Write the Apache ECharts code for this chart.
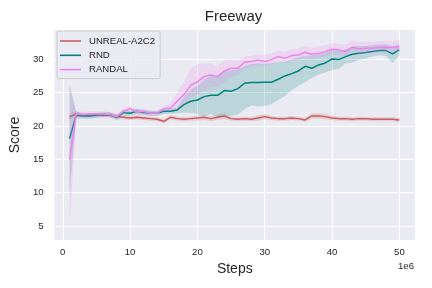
<!DOCTYPE html>
<html><head><meta charset="utf-8">
<script src="https://cdn.jsdelivr.net/npm/echarts@6/dist/echarts.min.js"></script>
<style>html,body{margin:0;padding:0;background:#fff}#c{width:432px;height:288px}</style>
</head><body><div id="c"></div>
<script>
const steps = [1,2,3,4,5,6,7,8,9,10,11,12,13,14,15,16,17,18,19,20,21,22,23,24,25,26,27,28,29,30,31,32,33,34,35,36,37,38,39,40,41,42,43,44,45,46,47,48,49,50];
const xTicks = [0,10,20,30,40,50];
const yTicks = [5,10,15,20,25,30];

const unrealMean = [21.4,21.8,21.6,21.6,21.7,21.6,21.6,21.4,21.3,21.2,21.3,21.2,21.1,21.0,20.7,21.3,21.1,21.0,21.1,21.2,21.3,21.1,21.3,21.5,21.1,21.0,21.1,21.0,21.2,21.4,21.2,21.1,21.1,21.2,21.1,20.9,21.5,21.5,21.4,21.2,21.1,21.1,21.0,21.1,21.1,21.0,21.0,21.0,21.0,20.9];
const unrealLow = [21.0,21.4,21.3,21.3,21.4,21.3,21.3,21.0,21.0,20.9,21.0,20.9,20.8,20.7,20.4,21.0,20.8,20.7,20.8,20.8,20.9,20.7,20.9,21.0,20.8,20.7,20.8,20.7,20.8,21.0,20.9,20.8,20.8,20.9,20.8,20.6,21.1,21.1,21.0,20.9,20.8,20.8,20.7,20.8,20.8,20.7,20.7,20.7,20.7,20.6];
const unrealHigh = [21.8,22.2,21.9,21.9,22.0,21.9,21.9,21.8,21.6,21.5,21.6,21.5,21.4,21.3,21.0,21.6,21.4,21.3,21.4,21.6,21.7,21.5,21.7,22.0,21.4,21.3,21.4,21.3,21.6,21.8,21.5,21.4,21.4,21.5,21.4,21.2,21.9,21.9,21.8,21.5,21.4,21.4,21.3,21.4,21.4,21.3,21.3,21.3,21.3,21.2];

const rndMean = [18.1,21.6,21.5,21.5,21.6,21.7,21.7,21.3,22.0,21.9,22.2,22.0,21.9,21.9,22.2,22.2,22.4,23.2,23.7,23.9,24.4,24.6,24.6,25.3,25.2,25.6,26.4,26.5,26.5,26.55,26.55,27.0,27.5,27.85,28.25,28.95,28.65,29.15,29.45,30.05,29.95,30.4,30.75,30.9,31.0,31.15,31.3,31.3,30.8,31.45];
const rndLow = [10.0,21.1,21.1,21.1,21.2,21.3,21.3,20.9,21.6,21.5,21.8,21.6,21.5,21.5,21.8,21.8,21.9,22.0,22.0,21.8,21.5,21.8,21.3,21.6,21.5,21.7,22.5,23.1,22.9,23.0,23.3,23.9,24.5,25.4,26.0,26.6,27.2,27.7,28.0,28.4,28.5,29.4,29.5,29.9,30.1,30.4,30.6,30.5,29.4,30.6];
const rndHigh = [26.3,22.1,21.9,21.9,22.0,22.1,22.1,21.7,22.4,22.3,22.6,22.4,22.3,22.3,22.6,22.6,22.8,24.4,25.5,26.0,27.0,27.5,27.4,28.2,28.4,28.5,29.0,29.3,29.4,29.3,29.4,29.6,29.6,30.0,30.3,30.5,30.6,30.8,31.0,31.4,31.3,31.5,31.9,32.0,32.0,32.1,32.2,32.2,32.0,32.3];

const randalMean = [14.9,21.8,21.7,21.8,21.8,21.8,21.7,21.4,22.2,22.6,22.1,22.2,21.9,21.9,22.6,22.7,23.7,24.7,26.1,26.6,27.4,27.65,27.4,28.25,28.65,28.65,29.55,29.65,29.9,29.65,29.95,30.4,30.15,30.55,30.65,31.05,30.75,30.9,31.15,31.5,31.4,31.15,31.8,31.55,31.65,31.65,31.75,31.8,31.75,31.9];
const randalLow = [4.3,21.4,21.3,21.4,21.4,21.4,21.3,21.0,21.8,22.2,21.7,21.8,21.5,21.5,22.2,22.2,22.6,23.2,24.2,24.7,25.3,25.8,25.9,26.6,27.4,27.6,28.5,28.8,29.1,28.9,29.2,29.7,29.4,29.8,29.9,30.3,30.0,30.2,30.4,30.8,30.7,30.4,31.1,30.8,30.9,30.9,31.0,31.1,31.0,31.2];
const randalHigh = [25.5,22.2,22.1,22.2,22.2,22.2,22.1,21.8,22.6,23.0,22.5,22.6,22.3,22.3,23.0,23.3,25.0,26.6,28.6,29.3,29.4,29.4,29.0,29.9,30.0,29.7,30.4,30.5,30.8,30.6,30.9,31.3,31.1,31.5,31.6,32.0,31.7,31.9,32.1,32.4,32.3,32.2,32.9,32.6,32.7,32.6,32.7,32.8,32.7,32.9];

const names = ['UNREAL-A2C2','RND','RANDAL'];
const colors = ['#cd5c5c','#008080','#ee82ee'];
const means = [unrealMean, rndMean, randalMean];
const lows = [unrealLow, rndLow, randalLow];
const highs = [unrealHigh, rndHigh, randalHigh];

const FONT = 'Liberation Sans';
const TXT = '#262626';

function bandSeries(i){
  return {
    type:'custom', name: names[i]+'_band', z: 2*i+1, silent:true,
    clip:true,
    data: [[steps[0], lows[i][0]]],
    encode:{x:0,y:1},
    renderItem: function(params, api){
      const pts = [];
      for (let k=0;k<steps.length;k++) pts.push(api.coord([steps[k], highs[i][k]]));
      for (let k=steps.length-1;k>=0;k--) pts.push(api.coord([steps[k], lows[i][k]]));
      return {type:'polygon', shape:{points:pts}, style:{fill:colors[i], opacity:0.2}};
    }
  };
}
function lineSeries(i){
  return {
    type:'line', name:names[i], z:2*i+2, symbol:'none', silent:true,
    color: colors[i],
    lineStyle:{width:1.5, color:colors[i]},
    data: steps.map((s,k)=>[s, means[i][k]])
  };
}

const series = [];
for (let i=0;i<3;i++){ series.push(bandSeries(i)); series.push(lineSeries(i)); }

const chart = echarts.init(document.getElementById('c'), null, {renderer:'canvas'});
chart.setOption({
  animation:false,
  backgroundColor:'#ffffff',
  textStyle:{fontFamily:FONT},
  title:{text:'Freeway', left:233.5, textAlign:'center', top:9, padding:0,
    textStyle:{fontFamily:FONT, fontSize:15, fontWeight:'normal', color:TXT}},
  grid:{left:52, top:30, right:17, bottom:48, show:true, backgroundColor:'#eaeaf2', borderWidth:0},
  legend:{
    data:names, orient:'vertical', left:57, top:31,
    icon:'rect', itemWidth:21, itemHeight:1.6, itemGap:2.3,
    padding:[4,5,3,3],
    backgroundColor:'rgba(234,234,242,0.8)', borderColor:'#cccccc', borderWidth:1, borderRadius:2,
    textStyle:{fontFamily:FONT, fontSize:9.6, color:TXT, lineHeight:12, padding:[0,0,0,3]},
    selectedMode:false
  },
  xAxis:{
    type:'value', min:-1.22, max:52.32,
    name:'Steps', nameLocation:'middle', nameGap:21,
    nameTextStyle:{fontFamily:FONT, fontSize:14, color:TXT},
    axisLine:{show:false}, axisTick:{show:false, customValues:xTicks},
    axisLabel:{customValues:xTicks, fontFamily:FONT, fontSize:9.6, color:TXT, margin:7},
    splitLine:{show:true, lineStyle:{color:'#ffffff', width:1}}
  },
  yAxis:{
    type:'value', min:2.9, max:34.39,
    name:'Score', nameLocation:'middle', nameGap:29,
    nameTextStyle:{fontFamily:FONT, fontSize:14, color:TXT},
    axisLine:{show:false}, axisTick:{show:false, customValues:yTicks},
    axisLabel:{customValues:yTicks, fontFamily:FONT, fontSize:9.6, color:TXT, margin:11},
    splitLine:{show:true, lineStyle:{color:'#ffffff', width:1}}
  },
  graphic:[{type:'text', right:18, top:261, style:{text:'1e6', font:'9.6px "Liberation Sans"', fill:TXT}}],
  series: series
});
</script>
</body></html>
